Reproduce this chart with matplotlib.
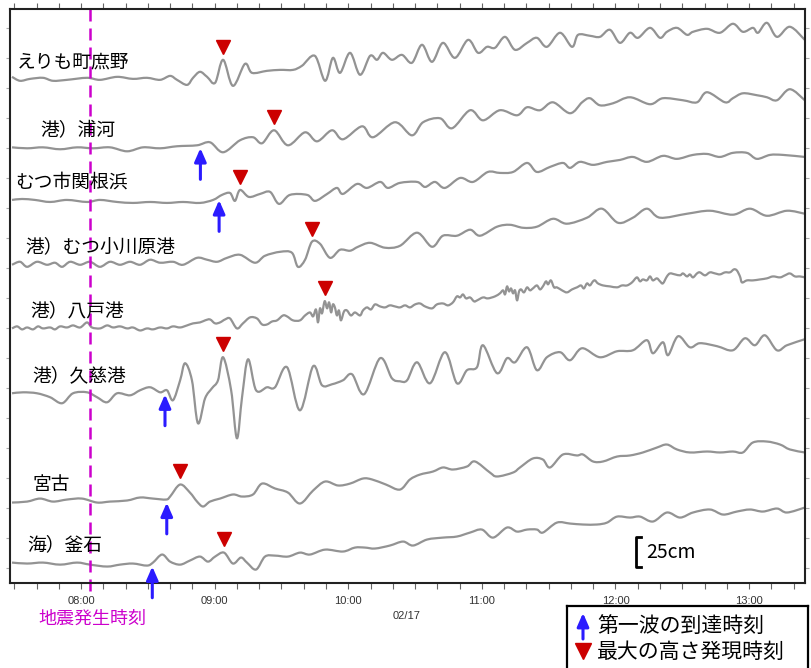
import numpy as np
import matplotlib.pyplot as plt
from matplotlib.path import Path
from matplotlib.patches import PathPatch

plt.rcParams['font.family'] = ['Noto Sans CJK JP', 'DejaVu Sans']

# --- observed water level, time in minutes after 08:00, level in cm ---
erimo_t = [-31, -27.4, -22.9, -17.1, -12.6, -6.3, 2.7, 8.5, 16.2, 23.3,
           29.6, 35.5, 40, 43.1, 47.6, 50.3, 53.4, 56.6, 60.2, 63.8,
           68.2, 73.6, 76.8, 83.5, 89.4, 95.2, 99.2, 105, 109.6, 113.1,
           116.3, 120.8, 125.3, 129.8, 132.9, 135.6, 139.6, 144.1, 148.6, 153.1,
           157.6, 162.5, 167.9, 173.8, 178.3, 182.3, 185.9, 190.4, 194.9, 200.3,
           204.7, 209.2, 215.1, 220.5, 223.2, 228.5, 233, 237.5, 242, 246.5,
           250.1, 255.5, 260, 263.1, 267.6, 272.1, 274.8, 281.1, 286.9, 292.7,
           297.2, 301.7, 304, 308, 312.5, 318.3, 325]
erimo_h = [2.5, -0.8, 0.8, 1.7, -0.8, 0, 1.7, 0, 2.5, 0.8,
           1.7, 0, 3.3, 0, -4.2, 1.7, 6.7, 2.5, -2.5, 16.7,
           -5, 13.3, 5.8, 7.5, 8.3, 8.3, 11.7, 20, -0.8, 18.3,
           5.8, 22.5, 4.2, 20, 16.7, 22.5, 16.7, 20.8, 14.2, 29.2,
           15, 30.8, 18.3, 33.3, 22.5, 27.5, 26.7, 35.8, 25, 30.8,
           35, 27.5, 39.2, 27.5, 37.5, 36.7, 35.8, 41.7, 30.8, 39.2,
           35, 43.3, 35, 40, 43.3, 37.5, 40, 42.5, 39.2, 46.7,
           40, 43.3, 39.2, 47.5, 35.8, 44.2, 33.3]

urakawa_t = [-31, -24.2, -17.1, -9.4, -1.8, 5.4, 13, 20.7, 27.8, 35.5,
             43.1, 52.1, 57.9, 63.8, 71.4, 77.2, 81.3, 86.7, 92.9, 100.6,
             106, 112.7, 117.6, 126.2, 131.1, 141, 148.6, 153.6, 161.2, 166.6,
             174.7, 180.5, 188.1, 195.8, 200.3, 206.1, 211.9, 219.6, 225, 228.5,
             233, 238.9, 246.5, 255.5, 261.3, 270.3, 276.6, 281.1, 289.2, 292.7,
             297.2, 303.5, 308, 312.5, 318.3, 325]
urakawa_h = [0.8, 0, 0.8, -0.8, 0.8, 0, 0.8, -2.5, 0.8, 0,
             1.7, 2.5, 5, -3.3, 6.7, 9.2, 4.2, 15, 2.5, 13.3,
             5.8, 15, 7.5, 18.3, 9.2, 21.7, 10.8, 21.7, 25, 16.7,
             31.7, 23.3, 31.7, 27.5, 34.2, 31.7, 38.3, 29.2, 38.3, 41.7,
             35.8, 37.5, 42.5, 36.7, 41.7, 40, 38.3, 46.7, 38.3, 41.7,
             45.8, 44.2, 42.5, 40, 49.2, 40]

sekine_t = [-31, -26.5, -20.7, -13.9, -6.3, 2.7, 8.5, 16.2, 23.3, 31,
            38.6, 45.8, 53.4, 59.3, 63.3, 66.9, 69.1, 71.4, 75.4, 80.4,
            84.9, 88.9, 93.8, 101.5, 105.1, 110.5, 114.9, 117.6, 123.9, 128.4,
            134.3, 137.8, 143.2, 150.9, 154.5, 158.9, 163.4, 170.2, 176, 182.7,
            188.1, 194, 200.3, 204.7, 210.6, 216.4, 219.6, 224, 229.9, 236.2,
            242, 247.8, 254.1, 261.3, 267.6, 274.8, 281.1, 286.9, 292.7, 299,
            303.5, 309.4, 315.2, 325]
sekine_h = [0, 0.8, 0, -1.7, 0, -1.7, 0, -1.7, -2.5, -1.7,
            -2.5, -1.7, -2.5, 0, 4.2, 5.8, -0.8, 8.3, 2.5, 5,
            6.7, -3.3, 4.2, 4.2, -0.8, 5, 10, 5, 13.3, 10,
            15, 10, 14.2, 15, 10.8, 15, 10, 18.3, 15, 23.3,
            22.5, 23.3, 30.8, 23.3, 27.5, 30.8, 26.7, 31.7, 29.2, 31.7,
            33.3, 35.8, 31.7, 36.7, 34.2, 37.5, 38.3, 35.8, 39.2, 39.2,
            34.2, 37.5, 37.5, 35.8]

ogawara_t = [-31, -27.4, -24.2, -19.8, -15.3, -11.7, -8.5, -4.9, -0.4, 4,
             8.5, 13, 17.5, 22, 26.5, 31, 35.5, 41.3, 45.8, 52.1,
             56.6, 61.1, 65.6, 71.4, 78.1, 82.6, 89.4, 94.7, 97.4, 100.6,
             103.7, 107.3, 111.8, 116.3, 120.8, 124.4, 129.8, 136.5, 143.2, 150.9,
             157.6, 162.5, 168.8, 174.7, 179.2, 186.8, 192.6, 198.5, 204.7, 211.9,
             218.2, 227.2, 233.9, 241.1, 247.8, 254.1, 260, 272.1, 282.4, 292.7,
             300.4, 308, 317, 325]
ogawara_h = [0, 2.5, -1.7, 2.5, 0, 1.7, -1.7, 2.5, 0, 2.5,
             -1.7, 2.5, 0, 2.5, 0, 4.2, 1.7, 2.5, 0, 5.8,
             4.2, 2.5, 5.8, 8.3, 1.7, 7.5, 10.8, 10, -1.7, 4.2,
             19.2, 17.5, 5.8, 12.5, 11.7, 15, 18.3, 14.2, 15.8, 26.7,
             15, 24.2, 24.2, 29.2, 24.2, 31.7, 33.3, 30.8, 31.7, 38.3,
             34.2, 39.2, 46.7, 35, 39.2, 46.7, 39.2, 42.5, 45, 41.7,
             46.7, 40.8, 45, 42.5]

hachinohe_t = [-31.0, -28.7, -26.5, -24.2, -21.6, -19.3, -17.1, -13.9, -11.7, -9.4,
               -6.3, -3.6, -0.4, 2.7, 4.9, 8.5, 11.7, 14.4, 17.5, 20.7,
               23.3, 26.5, 29.6, 32.3, 35.5, 38.6, 41.3, 44.5, 47.6, 50.3,
               53.4, 55.7, 57.9, 60.2, 62.4, 64.7, 66.9, 70, 72.7, 75.9,
               79, 81.3, 83.5, 85.8, 88, 90.7, 92.5, 95.2, 98.3, 100.6,
               102.8, 104.2, 105.5, 106.4, 107.3, 108.2, 109.1, 109.6, 110.5, 111.4,
               112.3, 113.1, 114, 114.9, 115.8, 116.7, 118.1, 119.4, 121.2, 123,
               125.3, 126.6, 128.4, 130.2, 132, 134.3, 136.5, 138.7, 141, 143.2,
               145.5, 147.7, 150, 152.2, 154.5, 157.6, 159.8, 162.5, 164.8, 167,
               168.8, 170.2, 171.5, 172.9, 174.7, 176.5, 177.8, 180.5, 182.7, 185.9,
               188.1, 189.5, 190.4, 191.3, 192.2, 193.1, 194, 194.9, 195.8, 196.7,
               197.6, 198.9, 200.3, 201.6, 202.9, 204.7, 206.1, 207.4, 208.8, 209.7,
               211, 212.4, 213.7, 216, 218.2, 220.5, 222.7, 224.5, 225.8, 227.2,
               228.5, 229.9, 230.8, 232.1, 234.4, 237.5, 240.7, 242.9, 245.2, 247.4,
               249.6, 251, 252.3, 254.1, 255.5, 256.8, 258.6, 260, 261.3, 263.1,
               264.5, 266.7, 269, 270.3, 272.1, 273.4, 274.8, 276.6, 277.9, 280.2,
               282.4, 284.7, 286.9, 289.2, 291.4, 293.2, 294.5, 295.9, 296.8, 299,
               301.7, 304.9, 308, 310.7, 313.9, 316.1, 318.3, 320.6, 322.8, 325]
hachinohe_h = [0, 1.7, -0.8, 0.8, -0.8, 1.7, 0, 0.8, -0.8, 1.7,
               0.8, 2.5, 0.8, 5, 0.8, 0, 2.5, 0.8, 1.7, 0,
               0.8, -1.7, 0, -0.8, 0.8, 0, 1.7, 0.8, 2.5, 4.2,
               5, 6.7, 7.5, 4.2, 5, 7.5, 8.3, 0, 4.2, 9.2,
               8.3, 3.3, 3.3, 5.8, 6.7, 10.8, 10, 6.7, 6.7, 10.8,
               13.3, 10, 15.8, 5, 16.7, 12.5, 20.8, 22.5, 16.7, 21.7,
               13.3, 20, 17.5, 10.8, 15, 6.7, 14.2, 15, 10.8, 13.3,
               10.8, 15, 17.5, 15.8, 20, 18.3, 17.5, 19.2, 18.3, 17.5,
               19.2, 17.5, 20, 20.8, 18.3, 16.7, 20, 20.8, 19.2, 21.7,
               26.7, 25.8, 28.3, 25, 25.8, 22.5, 23.3, 25.8, 25, 26.7,
               29.2, 31.7, 28.3, 35, 30.8, 33.3, 29.2, 31.7, 23.3, 30.8,
               32.5, 30, 34.2, 31.7, 33.3, 35.8, 32.5, 35, 39.2, 36.7,
               40, 34.2, 34.2, 31.7, 30, 32.5, 34.2, 35.8, 33.3, 37.5,
               35.8, 39.2, 40, 37.5, 35.8, 35, 34.2, 35.8, 35.8, 38.3,
               42.5, 39.2, 40.8, 40, 43.3, 40, 41.7, 39.2, 37.5, 43.3,
               45.8, 45, 44.2, 45.8, 43.3, 45, 42.5, 45.8, 46.7, 44.2,
               46.7, 45.8, 45, 46.7, 46.7, 49.2, 48.3, 43.3, 38.3, 40,
               40, 40.8, 41.7, 43.3, 42.5, 44.2, 45.8, 43.3, 43.3, 42.5]

kuji_t = [-31, -26, -19.8, -13.9, -8.5, -3.6, 2.7, 7.2, 11.7, 16.2,
          22, 26.5, 31, 35.5, 38.6, 41.3, 44.5, 46.7, 49.8, 52.5,
          55.7, 58.8, 61.5, 63.8, 67.4, 70, 72.3, 75, 78.6, 83.5,
          87.1, 92.5, 98.3, 104.2, 108.2, 112.7, 117.6, 121.7, 127.1, 134.3,
          139.6, 143.2, 146.4, 150.9, 156.7, 163.4, 168.8, 173.3, 177.8, 180.5,
          186.8, 191.3, 194.9, 200.3, 204.7, 209.2, 215.1, 219.6, 225, 233,
          240.7, 247.8, 254.1, 256.8, 261.3, 263.6, 268.1, 273.4, 277.9, 285.6,
          292.7, 298.1, 302.6, 307.1, 312.5, 317, 325]
kuji_h = [0, 0.8, 0, -3.3, -8.3, 0, 0.8, -3.3, -7.5, 0,
          -1.7, 2.5, 5, 0.8, 2.5, -5.8, 10.8, 25, 10.8, -25,
          -4.2, 4.2, 10.8, 30, 2.5, -37.5, -3.3, 28.3, 2.5, 5,
          5, 21.7, -14.2, 22.5, 6.7, 7.5, 10.8, 15.8, -0.8, 29.2,
          12.5, 10, 10.8, 25.8, 8.3, 34.2, 8.3, 19.2, 21.7, 40,
          16.7, 29.2, 25.8, 38.3, 19.2, 30, 34.2, 27.5, 37.5, 30,
          35, 35.8, 44.2, 33.3, 42.5, 31.7, 47.5, 38.3, 41.7, 39.2,
          35.8, 45.8, 40, 48.3, 35.8, 40, 45]

miyako_t = [-31, -24.2, -18.4, -12.6, -6.3, 0.4, 7.2, 13, 20.7, 26.5,
            32.3, 38.2, 40, 44.5, 48.9, 52.1, 54.8, 57.9, 62.4, 68.2,
            72.3, 77.2, 81.3, 87.1, 92.9, 98.3, 104.2, 109.6, 115.4, 120.8,
            126.6, 130.7, 136.9, 143.2, 147.7, 152.2, 158, 162.5, 167, 173.3,
            176.9, 183.6, 186.8, 194, 197.1, 202.9, 207.4, 210.6, 216.4, 222.7,
            225.4, 229.9, 234.4, 240.7, 246.5, 252.3, 258.6, 263.1, 267.6, 273.4,
            281.1, 286.9, 292.7, 297.2, 301.7, 308, 313.9, 318.3, 325]
miyako_h = [0, 0.8, 3.3, 0.8, 2.5, 3.3, 0, 0.8, 1.7, 4.2,
            3.3, 2.5, 5, 15, 8.3, 0.8, -3.3, 0.8, 3.3, 6.7,
            5, 6.7, 15.8, 11.7, 8.3, -0.8, 10, 17.5, 14.2, 15.8,
            20, 19.2, 15, 10.8, 19.2, 23.3, 25.8, 29.2, 27.5, 30,
            34.2, 25, 21.7, 25, 29.2, 36.7, 35.8, 29.2, 40, 39.2,
            40, 34.2, 34.2, 38.3, 39.2, 41.7, 45.8, 48.3, 44.2, 41.7,
            42.5, 41.7, 42.5, 41.7, 50, 50.8, 48.3, 44.2, 41.7]

kamaishi_t = [-31, -24.2, -17.1, -9.4, -1.8, 4, 11.7, 17.5, 23.3, 29.6,
              32.3, 36.4, 40, 44.5, 48.9, 53.4, 57, 60.2, 64.2, 68.2,
              71.8, 74.5, 78.6, 82.6, 87.1, 92.9, 98.3, 102.8, 109.6, 117.6,
              123, 127.5, 132, 138.7, 144.6, 149.1, 155.4, 162.5, 168.8, 174.7,
              180, 185, 191.3, 195.8, 200.3, 204.7, 207.4, 213.7, 219.6, 225.4,
              231.7, 236.2, 240.7, 246.5, 251, 256.8, 263.1, 269, 274.8, 282.4,
              288.3, 294.5, 300.4, 306.2, 312.5, 317, 325]
kamaishi_h = [0, -0.8, 0, -1.7, 0, -1.7, -3.3, -1.7, -0.8, -2.5,
              0, 6.7, 0.8, -1.7, 1.7, 5, 0.8, 5, 8.3, -0.8,
              4.2, 0, -5.8, 5, 5.8, 5, 8.3, 6.7, 10.8, 9.2,
              12.5, 12.5, 11.7, 14.2, 17.5, 14.2, 19.2, 20.8, 21.7, 25,
              27.5, 20.8, 29.2, 25.8, 27.5, 27.5, 25, 33.3, 32.5, 31.7,
              31.7, 33.3, 38.3, 37.5, 38.3, 34.2, 41.7, 37.5, 41.7, 44.2,
              40, 42.5, 44.2, 42.5, 45, 41.7, 45.8]

stations = ["えりも町庶野", "港）浦河", "むつ市関根浜", "港）むつ小川原港",
            "港）八戸港", "港）久慈港", "宮古", "海）釜石"]
series = [(erimo_t, erimo_h), (urakawa_t, urakawa_h), (sekine_t, sekine_h),
          (ogawara_t, ogawara_h), (hachinohe_t, hachinohe_h), (kuji_t, kuji_h),
          (miyako_t, miyako_h), (kamaishi_t, kamaishi_h)]

# first wave arrival and time of maximum height (minutes after 08:00)
arrival_time = [None, 53.6, 62.0, None, None, 37.7, 38.5, 32.0]
max_time = [63.8, 86.7, 71.4, 103.7, 109.6, 63.8, 44.5, 64.2]
quake_time = 4.0
hour_labels = ["08:00", "09:00", "10:00", "11:00", "12:00", "13:00"]
date_label = "02/17"
scale_cm = 25

# layout: trace baselines (cm from panel bottom) and label starts (minutes)
baselines = [419, 362, 319, 265, 212, 158, 67, 17]
label_x = [-28.7, -18.4, -29.6, -25.1, -22.9, -22.0, -21.6, -24.2]

TRACE = '#939393'
MAGENTA = '#cc00cc'
BLUE = '#2b1bff'
RED = '#cc0000'


def trace_path(x, y):
    # rounded curve through the read points (cubic segments, Catmull-Rom tangents)
    pts = np.column_stack([x, y])
    n = len(pts)
    verts = [pts[0]]
    codes = [Path.MOVETO]
    for i in range(n - 1):
        p0 = pts[max(i - 1, 0)]
        p1 = pts[i]
        p2 = pts[i + 1]
        p3 = pts[min(i + 2, n - 1)]
        verts += [p1 + (p2 - p0) / 6, p2 - (p3 - p1) / 6, p2]
        codes += [Path.CURVE4] * 3
    return Path(verts, codes)


def draw_traces(ax):
    for name, (t, h), base, lx in zip(stations, series, baselines, label_x):
        t = np.asarray(t, float)
        h = np.asarray(h, float)
        ax.add_patch(PathPatch(trace_path(t, base + h), fill=False,
                               edgecolor=TRACE, lw=1.6, joinstyle='round'))
        ax.text(lx, base + 15, name, fontsize=13.5, va='center', ha='left')


def draw_marks(ax):
    for (t, h), base, ta, tm in zip(series, baselines, arrival_time, max_time):
        if tm is not None:
            y = base + np.interp(tm, t, h) + 11
            ax.plot([tm], [y], marker='v', color=RED, markersize=10, linestyle='none')
        if ta is not None:
            tip = base + np.interp(ta, t, h) - 3
            ax.annotate('', xy=(ta, tip), xytext=(ta, tip - 26),
                        annotation_clip=False,
                        arrowprops=dict(arrowstyle='-|>,head_width=0.35,head_length=0.8',
                                        color=BLUE, lw=2.2, shrinkA=0, shrinkB=0,
                                        clip_on=False))


def draw_axes(ax, fig):
    ax.set_xlim(-31.9, 325.1)
    ax.set_ylim(0, 478)
    ax.set_xticks(np.arange(0, 301, 60))
    ax.set_xticklabels(hour_labels, fontfamily='Liberation Sans')
    ax.set_xticks(np.arange(-30, 321, 10), minor=True)
    ax.set_yticks(np.arange(12.5, 478, 25))
    ax.tick_params(axis='x', which='both', direction='out', length=4, width=0.8,
                   top=True, color='#666666', labelsize=8, labelcolor='#333333', pad=5)
    ax.tick_params(axis='y', direction='out', length=3, width=0.8, left=True, right=True,
                   labelleft=False, color='#aaaaaa')
    for s in ax.spines.values():
        s.set_linewidth(1.5)
        s.set_color('#222222')
    fig.text(407 / 812, 1 - 616 / 668, date_label, fontsize=8, color='#333333',
             ha='center', va='center', fontfamily='Liberation Sans')

    # earthquake origin time
    ax.plot([quake_time, quake_time], [478, -7.5], color=MAGENTA, lw=1.8,
            dashes=(4.8, 2.8), clip_on=False)
    fig.text(92 / 812, 1 - 619 / 668, "地震発生時刻", color=MAGENTA, fontsize=13,
             ha='center', va='center')

    # vertical scale
    x0, y0 = 249.2, 13.3
    ax.plot([x0 + 2.2, x0, x0, x0 + 2.2], [y0, y0, y0 + scale_cm, y0 + scale_cm],
            color='black', lw=2)
    ax.text(x0 + 4.8, y0 + scale_cm / 2, f"{scale_cm}cm", fontsize=14, va='center', ha='left')


def draw_legend(fig):
    lg = fig.add_axes([567 / 812, -33 / 668, 241 / 812, 95 / 668])
    lg.set_xlim(567, 808)
    lg.set_ylim(701, 606)
    lg.set_xticks([])
    lg.set_yticks([])
    for s in lg.spines.values():
        s.set_linewidth(1.6)
        s.set_color('black')
    lg.annotate('', xy=(583, 613), xytext=(583, 639),
                arrowprops=dict(arrowstyle='-|>,head_width=0.35,head_length=0.8',
                                color=BLUE, lw=2.2, shrinkA=0, shrinkB=0))
    lg.text(597, 626, "第一波の到達時刻", fontsize=15, va='center', ha='left')
    lg.plot([583], [651], marker='v', color=RED, markersize=11, linestyle='none')
    lg.text(597, 652, "最大の高さ発現時刻", fontsize=15, va='center', ha='left')


def main():
    fig = plt.figure(figsize=(8.12, 6.68), dpi=100)
    ax = fig.add_axes([10 / 812, 85 / 668, 795 / 812, 574 / 668])
    draw_traces(ax)
    draw_marks(ax)
    draw_axes(ax, fig)
    draw_legend(fig)
    fig.savefig("out.png", dpi=100)


if __name__ == "__main__":
    main()
